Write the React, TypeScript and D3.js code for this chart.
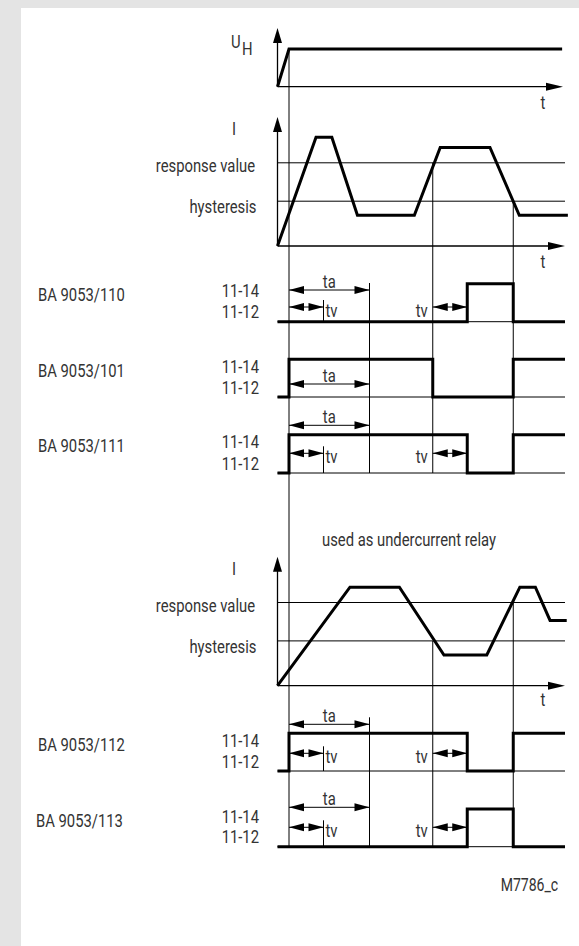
import React from "react";
import * as d3 from "d3";

// ---- data (time units; 0..100 spans the time axis) ----
const TIME_ON = 4;        // supply voltage switched on
const TA_END = 32;        // end of start-up delay ta
const TV_LEN = 12;        // response delay tv
const SWITCH_A = 54;      // threshold crossing 1
const SWITCH_B = 82;      // threshold crossing 2
const T_END = 100;

const supplyWave: [number, number][] = [[0, 0], [4, 1], [99, 1]];

const THRESH_RESPONSE = 65;
const THRESH_HYST = 35;

const currentOver: [number, number][] = [
  [0, 0], [13.4, 85], [18.9, 85], [27.8, 24], [47.6, 24], [56.6, 77], [73.9, 77], [84.1, 24], [101, 24],
];
const currentUnder: [number, number][] = [
  [0, 0], [25.2, 77], [42.4, 77], [57.9, 24], [72.8, 24], [84.3, 77], [89.7, 77], [94.8, 51], [100.6, 51],
];

const relayNames = ["BA 9053/110", "BA 9053/101", "BA 9053/111", "BA 9053/112", "BA 9053/113"];
const relayStates: [number, number][][] = [
  [[0, 0], [66, 1], [82, 0], [100, 0]],
  [[0, 0], [4, 1], [54, 0], [82, 1], [100, 1]],
  [[0, 0], [4, 1], [66, 0], [82, 1], [100, 1]],
  [[0, 0], [4, 1], [66, 0], [82, 1], [100, 1]],
  [[0, 0], [66, 1], [82, 0], [100, 0]],
];
const relayHasTv = [true, false, true, true, true];
const contactLabels = ["11-14", "11-12"];

// ---- layout ----
const W = 579;
const H = 946;
const FONT = "Roboto, 'Liberation Sans', sans-serif";
const FS = 19;
const SX = 0.78;
const TXT = "#333";

const rowHigh = [283.7, 359.3, 434.7, 733.3, 809];
const rowLow = [321.7, 397, 473, 771, 846.7];
const rowTa = [290, 384, 425.3, 724.3, 807.3];
const rowTv = [307, 0, 453.3, 753.3, 827.3];

const xs = d3.scaleLinear().domain([0, 100]).range([277.5, 565]);
const yU = d3.scaleLinear().domain([0, 1]).range([86.7, 49]);
const yI1 = d3.scaleLinear().domain([0, 100]).range([246, 118]);
const yI2 = d3.scaleLinear().domain([0, 100]).range([685.7, 557.7]);

function T({ x, y, children, anchor = "start", size = FS }: any) {
  return (
    <text
      transform={`translate(${x},${y}) scale(${SX},1)`}
      textAnchor={anchor}
      dominantBaseline="central"
      fontFamily={FONT}
      fontSize={size}
      fill={TXT}
    >
      {children}
    </text>
  );
}

function DArrow({ x1, x2, y, head = 14, half = 4 }: any) {
  return (
    <g>
      <line x1={x1} x2={x2} y1={y} y2={y} stroke="#000" strokeWidth={1} />
      <polygon points={`${x1},${y} ${x1 + head},${y - half} ${x1 + head},${y + half}`} fill="#000" />
      <polygon points={`${x2},${y} ${x2 - head},${y - half} ${x2 - head},${y + half}`} fill="#000" />
    </g>
  );
}

function Axes({ x0, yBase, yTip, xTip }: any) {
  return (
    <g>
      <line x1={x0} x2={x0} y1={yBase} y2={yTip + 10} stroke="#000" strokeWidth={1.3} />
      <polygon points={`${x0},${yTip} ${x0 - 4.5},${yTip + 15} ${x0 + 4.5},${yTip + 15}`} fill="#000" />
      <line x1={x0} x2={xTip - 10} y1={yBase} y2={yBase} stroke="#000" strokeWidth={1.3} />
      <polygon points={`${xTip},${yBase} ${xTip - 17},${yBase - 4} ${xTip - 17},${yBase + 4}`} fill="#000" />
    </g>
  );
}

function CurrentPlot({ y, wave, tLabelY }: any) {
  const line = d3.line<[number, number]>().x((d) => xs(d[0])).y((d) => y(d[1]));
  const x0 = xs(0);
  return (
    <g>
      <line x1={x0} x2={xs(T_END)} y1={y(THRESH_RESPONSE)} y2={y(THRESH_RESPONSE)} stroke="#000" strokeWidth={1} />
      <line x1={x0} x2={xs(T_END)} y1={y(THRESH_HYST)} y2={y(THRESH_HYST)} stroke="#000" strokeWidth={1} />
      <Axes x0={x0} yBase={y(0)} yTip={y(100) - 1} xTip={xs(T_END)} />
      <path d={line(wave) || ""} fill="none" stroke="#000" strokeWidth={3} />
      <T x={234} y={y(100) + 10.5} anchor="middle">I</T>
      <T x={255} y={y(THRESH_RESPONSE) + 3} anchor="end">response value</T>
      <T x={256.5} y={y(THRESH_HYST) + 5} anchor="end">hysteresis</T>
      <T x={543} y={tLabelY} anchor="middle">t</T>
    </g>
  );
}

function RelayRow({ i }: any) {
  const hi = rowHigh[i];
  const lo = rowLow[i];
  const line = d3
    .line<[number, number]>()
    .x((d) => xs(d[0]))
    .y((d) => (d[1] ? hi : lo))
    .curve(d3.curveStepAfter);
  const xOn = xs(TIME_ON);
  const xTa = xs(TA_END);
  const xTv = xs(TIME_ON + TV_LEN);
  const xA = xs(SWITCH_A);
  const xTv2 = xs(SWITCH_A + TV_LEN);
  const taY = rowTa[i];
  const tvY = rowTv[i];
  return (
    <g>
      <T x={i === 4 ? 36 : 38} y={hi + 11}>{relayNames[i]}</T>
      <T x={259} y={hi + 7} anchor="end">{contactLabels[0]}</T>
      <T x={259} y={lo - 10} anchor="end">{contactLabels[1]}</T>
      <line x1={xs(0)} x2={xs(T_END)} y1={lo} y2={lo} stroke="#000" strokeWidth={1} />
      <DArrow x1={xOn} x2={xTa} y={taY} head={15} />
      <T x={(xOn + xTa) / 2} y={taY - 8.5} anchor="middle">ta</T>
      {relayHasTv[i] && (
        <g>
          <DArrow x1={xOn} x2={xTv} y={tvY} head={15} />
          <line x1={xTv} x2={xTv} y1={tvY - 7} y2={lo} stroke="#000" strokeWidth={1} />
          <T x={xTv + 2} y={tvY + 3}>tv</T>
          <DArrow x1={xA} x2={xTv2} y={tvY} head={15} />
          <T x={xA - 5} y={tvY + 3} anchor="end">tv</T>
        </g>
      )}
      <path d={line(relayStates[i]) || ""} fill="none" stroke="#000" strokeWidth={3} />
    </g>
  );
}

export default function App() {
  const uLine = d3.line<[number, number]>().x((d) => xs(d[0])).y((d) => yU(d[1]));
  const xOn = xs(TIME_ON);
  const xTa = xs(TA_END);
  const xA = xs(SWITCH_A);
  const xB = xs(SWITCH_B);
  return (
    <svg
      width={W}
      height={H}
      viewBox={`0 0 ${W} ${H}`}
      style={{ position: "absolute", left: 0, top: 0 }}
    >
      <rect x={0} y={0} width={W} height={H} fill="#e4e4e4" />
      <rect x={21} y={8} width={W - 21} height={H - 8} fill="#fff" />

      {/* vertical guide lines */}
      <line x1={xOn} x2={xOn} y1={yU(1)} y2={rowLow[4]} stroke="#000" strokeWidth={1} />
      <line x1={xTa} x2={xTa} y1={rowTa[0] - 7} y2={rowLow[2]} stroke="#000" strokeWidth={1} />
      <line x1={xTa} x2={xTa} y1={rowTa[3] - 7} y2={rowLow[4]} stroke="#000" strokeWidth={1} />
      <line x1={xA} x2={xA} y1={yI1(THRESH_RESPONSE)} y2={rowLow[2]} stroke="#000" strokeWidth={1} />
      <line x1={xB} x2={xB} y1={yI1(THRESH_HYST)} y2={rowLow[2]} stroke="#000" strokeWidth={1} />
      <line x1={xA} x2={xA} y1={yI2(THRESH_HYST)} y2={rowLow[4]} stroke="#000" strokeWidth={1} />
      <line x1={xB} x2={xB} y1={yI2(THRESH_RESPONSE)} y2={rowLow[4]} stroke="#000" strokeWidth={1} />

      {/* supply voltage */}
      <Axes x0={xs(0)} yBase={yU(0)} yTip={28} xTip={563} />
      <path d={uLine(supplyWave) || ""} fill="none" stroke="#000" strokeWidth={3} />
      <T x={231} y={41.7}>U</T>
      <T x={242} y={48.5}>H</T>
      <T x={543} y={102.5} anchor="middle">t</T>

      <CurrentPlot y={yI1} wave={currentOver} tLabelY={261.5} />
      {[0, 1, 2].map((i) => <RelayRow key={i} i={i} />)}

      <T x={409} y={539} anchor="middle">used as undercurrent relay</T>

      <CurrentPlot y={yI2} wave={currentUnder} tLabelY={699} />
      {[3, 4].map((i) => <RelayRow key={i} i={i} />)}

      <T x={500.7} y={885} size={18}>M7786_c</T>
    </svg>
  );
}
